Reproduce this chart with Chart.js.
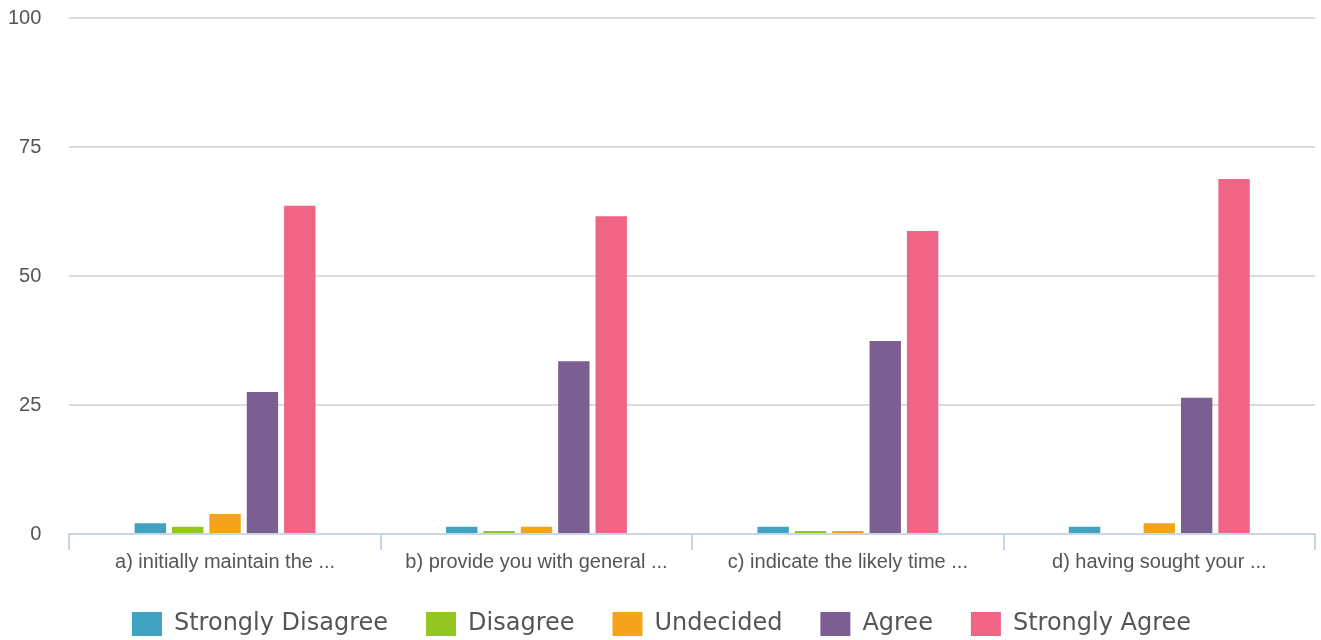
<!DOCTYPE html>
<html>
<head>
<meta charset="utf-8">
<script src="https://cdn.jsdelivr.net/npm/chart.js"></script>
<style>
  html, body { margin: 0; padding: 0; background: #fff; }
  #wrap { width: 1321px; height: 640px; }
</style>
</head>
<body>
<div id="wrap"><canvas id="chart"></canvas></div>
<script>
// 카테고리 / 시리즈 데이터
const categories = [
    'a) initially maintain the ...',
    'b) provide you with general ...',
    'c) indicate the likely time ...',
    'd) having sought your ...'
];
const stronglyDisagree = [2.1, 1.4, 1.4, 1.4];
const disagree = [1.4, 0.6, 0.6, 0];
const undecided = [3.9, 1.4, 0.6, 2.1];
const agree = [27.5, 33.5, 37.4, 26.4];
const stronglyAgree = [63.6, 61.6, 58.7, 68.8];
const yTicks = [0, 25, 50, 75, 100];

function makeSet(label, data, color) {
    return {
        label: label,
        data: data,
        backgroundColor: color,
        borderWidth: 0,
        barPercentage: 0.84,
        categoryPercentage: 0.6
    };
}

const labelFont = { family: 'Arial, "Liberation Sans", sans-serif', size: 20 };

const ctx = document.getElementById('chart').getContext('2d');
new Chart(ctx, {
    type: 'bar',
    data: {
        labels: categories,
        datasets: [
            makeSet('Strongly Disagree', stronglyDisagree, '#3fa3c1'),
            makeSet('Disagree', disagree, '#93c523'),
            makeSet('Undecided', undecided, '#f5a31b'),
            makeSet('Agree', agree, '#7b5f92'),
            makeSet('Strongly Agree', stronglyAgree, '#f06485')
        ]
    },
    options: {
        responsive: true,
        maintainAspectRatio: false,
        animation: false,
        layout: { padding: { left: 8, right: 6, top: 18, bottom: -6 } },
        plugins: {
            tooltip: { enabled: false },
            legend: {
                position: 'bottom',
                labels: {
                    boxWidth: 30,
                    boxHeight: 24,
                    padding: 38,
                    color: '#555',
                    font: { family: '"DejaVu Sans", Verdana, sans-serif', size: 24 }
                }
            }
        },
        scales: {
            x: {
                border: { color: '#c8d6e6', width: 2 },
                grid: {
                    offset: true,
                    drawOnChartArea: false,
                    drawTicks: true,
                    tickLength: 16,
                    color: '#c8d6e6',
                    lineWidth: 2
                },
                ticks: {
                    color: '#555',
                    padding: 0,
                    font: labelFont
                }
            },
            y: {
                min: 0,
                max: 100,
                afterBuildTicks: (axis) => { axis.ticks = yTicks.map(v => ({ value: v })); },
                border: { display: false },
                grid: {
                    color: '#dcdcdc',
                    lineWidth: 2,
                    drawTicks: true,
                    tickLength: 28,
                    tickColor: 'rgba(0,0,0,0)'
                },
                ticks: {
                    color: '#555',
                    padding: 0,
                    font: labelFont
                }
            }
        }
    }
});
</script>
</body>
</html>
